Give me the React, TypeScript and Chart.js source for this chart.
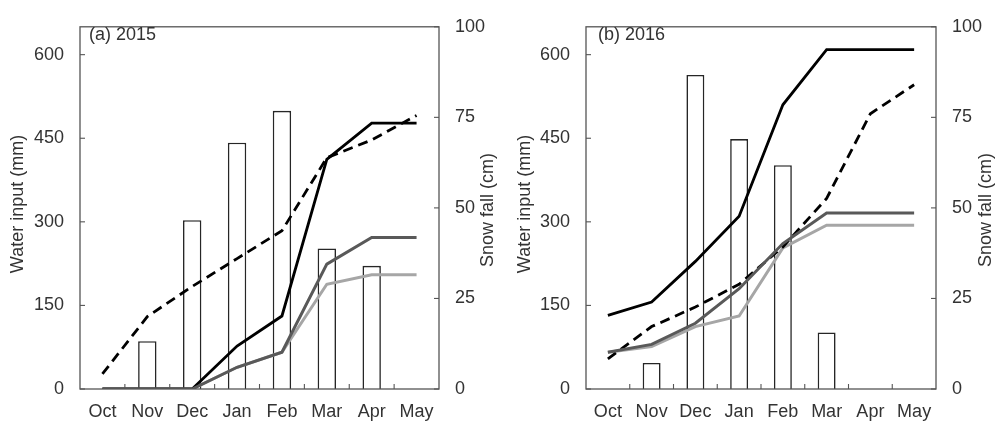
import React, { useEffect, useRef } from 'react';
import { Chart, registerables } from 'chart.js';

Chart.register(...registerables);

const months = ['Oct', 'Nov', 'Dec', 'Jan', 'Feb', 'Mar', 'Apr', 'May'];
const waterTicks = [0, 150, 300, 450, 600];
const snowTicks = [0, 25, 50, 75, 100];

// (a) 2015
const snow2015 = [null, 13.2, 46.6, 68, 76.8, 38.8, 34, null];
const black2015 = [0, 0, 0, 77, 131, 412, 477, 477];
const dashed2015 = [27, 130, 184, 234, 284, 415, 447, 491];
const darkGray2015 = [0, 0, 0, 39, 66, 224, 272, 272];
const lightGray2015 = [0, 0, 0, 39, 66, 188, 205, 205];

// (b) 2016
const snow2016 = [null, 7.2, 86.7, 69, 61.8, 15.6, null, null];
const black2016 = [132, 156, 229, 310, 510, 609, 609, 609];
const dashed2016 = [54, 112, 147, 188, 255, 342, 494, 546];
const darkGray2016 = [66, 80, 118, 180, 261, 316, 316, 316];
const lightGray2016 = [66, 76, 112, 131, 253, 294, 294, 294];

const FONT_FAMILY = '"Liberation Sans", Arial, Helvetica, sans-serif';
const TEXT_COLOR = '#333333';
const FRAME_COLOR = '#555555';

const decorPlugin = {
  id: 'decor',
  afterDraw(chart: any, _args: any, opts: any) {
    const { ctx, chartArea: ca, scales } = chart;
    ctx.save();
    ctx.strokeStyle = FRAME_COLOR;
    ctx.lineWidth = 1.3;
    ctx.strokeRect(ca.left, ca.top, ca.right - ca.left, ca.bottom - ca.top);
    const line = (x1: number, y1: number, x2: number, y2: number) => {
      ctx.beginPath();
      ctx.moveTo(x1, y1);
      ctx.lineTo(x2, y2);
      ctx.stroke();
    };
    ctx.lineWidth = 1.1;
    waterTicks.forEach((v) => {
      const py = scales.y.getPixelForValue(v);
      line(ca.left, py, ca.left + 5, py);
    });
    snowTicks.forEach((v) => {
      const py = scales.y2.getPixelForValue(v);
      line(ca.right - 5, py, ca.right, py);
    });
    for (let i = 0; i < months.length - 1; i++) {
      const px = (scales.x.getPixelForValue(i) + scales.x.getPixelForValue(i + 1)) / 2;
      line(px, ca.bottom, px, ca.bottom - 5);
    }
    ctx.fillStyle = TEXT_COLOR;
    ctx.font = `18px ${FONT_FAMILY}`;
    ctx.textBaseline = 'middle';
    ctx.textAlign = 'left';
    ctx.fillText(opts.label, opts.labelX, opts.labelY);
    ctx.textAlign = 'center';
    ctx.save();
    ctx.translate(opts.leftTitleX, opts.leftTitleY);
    ctx.rotate(-Math.PI / 2);
    ctx.fillText('Water input (mm)', 0, 0);
    ctx.restore();
    ctx.save();
    ctx.translate(opts.rightTitleX, opts.rightTitleY);
    ctx.rotate(-Math.PI / 2);
    ctx.fillText('Snow fall (cm)', 0, 0);
    ctx.restore();
    ctx.restore();
  },
};

type Panel = {
  width: number;
  leftW: number;
  rightW: number;
  snow: (number | null)[];
  black: number[];
  dashed: number[];
  darkGray: number[];
  lightGray: number[];
  label: string;
  labelX: number;
  leftTitleX: number;
  rightTitleX: number;
};

function makeConfig(p: Panel): any {
  const tickFont = { family: FONT_FAMILY, size: 18 };
  return {
    type: 'bar',
    data: {
      labels: months,
      datasets: [
        { type: 'line', data: p.darkGray, borderColor: '#595959', borderWidth: 3, pointRadius: 0, tension: 0, yAxisID: 'y', order: 1 },
        { type: 'line', data: p.dashed, borderColor: '#000000', borderWidth: 2.8, borderDash: [10, 6], pointRadius: 0, tension: 0, yAxisID: 'y', order: 2 },
        { type: 'line', data: p.black, borderColor: '#000000', borderWidth: 2.8, pointRadius: 0, tension: 0, yAxisID: 'y', order: 3 },
        { type: 'line', data: p.lightGray, borderColor: '#a6a6a6', borderWidth: 3, pointRadius: 0, tension: 0, yAxisID: 'y', order: 4 },
        { type: 'bar', data: p.snow, backgroundColor: '#ffffff', borderColor: '#262626', borderWidth: 1.6, yAxisID: 'y2', barPercentage: 0.41, categoryPercentage: 1, order: 10 },
      ],
    },
    options: {
      responsive: false,
      animation: false,
      layout: { padding: { top: 18, left: 0, right: 0, bottom: 0 } },
      plugins: {
        legend: { display: false },
        tooltip: { enabled: false },
        decor: {
          label: p.label,
          labelX: p.labelX,
          labelY: 35,
          leftTitleX: p.leftTitleX,
          leftTitleY: 204,
          rightTitleX: p.rightTitleX,
          rightTitleY: 210,
        },
      },
      scales: {
        x: {
          grid: { display: false, drawTicks: false },
          border: { display: false },
          ticks: { color: TEXT_COLOR, font: tickFont, padding: 12, maxRotation: 0, autoSkip: false },
          afterFit: (s: any) => { s.height = 32; },
        },
        y: {
          position: 'left',
          min: 0,
          max: 650,
          grid: { display: false, drawTicks: false },
          border: { display: false },
          ticks: { color: TEXT_COLOR, font: tickFont, padding: 16 },
          afterBuildTicks: (s: any) => { s.ticks = waterTicks.map((v) => ({ value: v })); },
          afterFit: (s: any) => { s.width = p.leftW; },
        },
        y2: {
          position: 'right',
          min: 0,
          max: 100,
          grid: { display: false, drawTicks: false },
          border: { display: false },
          ticks: { color: TEXT_COLOR, font: tickFont, padding: 16 },
          afterBuildTicks: (s: any) => { s.ticks = snowTicks.map((v) => ({ value: v })); },
          afterFit: (s: any) => { s.width = p.rightW; },
        },
      },
    },
    plugins: [decorPlugin],
  };
}

function ChartPanel({ panel }: { panel: Panel }) {
  const ref = useRef<HTMLCanvasElement | null>(null);
  useEffect(() => {
    if (!ref.current) return;
    const chart = new Chart(ref.current, makeConfig(panel));
    return () => chart.destroy();
  }, [panel]);
  return <canvas ref={ref} width={panel.width} height={421} style={{ display: 'block', width: panel.width, height: 421 }} />;
}

const panelA: Panel = {
  width: 505, leftW: 80, rightW: 66,
  snow: snow2015, black: black2015, dashed: dashed2015, darkGray: darkGray2015, lightGray: lightGray2015,
  label: '(a) 2015', labelX: 89, leftTitleX: 18.5, rightTitleX: 488,
};

const panelB: Panel = {
  width: 493, leftW: 81, rightW: 62,
  snow: snow2016, black: black2016, dashed: dashed2016, darkGray: darkGray2016, lightGray: lightGray2016,
  label: '(b) 2016', labelX: 93, leftTitleX: 20, rightTitleX: 481,
};

export default function App() {
  return (
    <div style={{ position: 'fixed', left: 0, top: 0, width: 998, height: 421, display: 'flex', background: '#ffffff' }}>
      <ChartPanel panel={panelA} />
      <ChartPanel panel={panelB} />
    </div>
  );
}
